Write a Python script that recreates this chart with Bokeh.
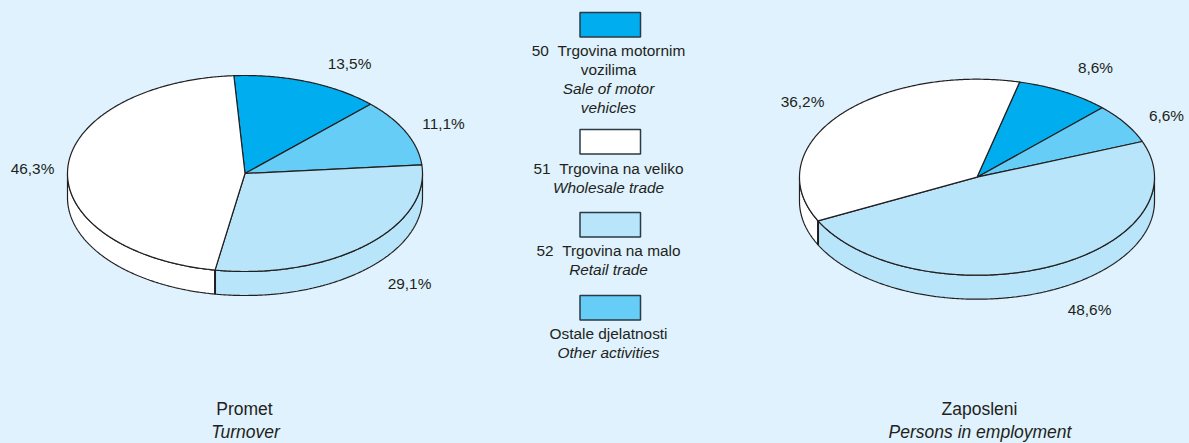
import numpy as np
from bokeh.plotting import figure
from bokeh.models import Range1d, ColumnDataSource
from bokeh.core.properties import value
from bokeh.embed import file_html
from bokeh.resources import INLINE

# data
categories = ["50", "Ostale", "52", "51"]
turnover = [13.5, 11.1, 29.1, 46.3]
employment = [8.6, 6.6, 48.6, 36.2]
turnover_labels = ["13,5%", "11,1%", "29,1%", "46,3%"]
employment_labels = ["8,6%", "6,6%", "48,6%", "36,2%"]

BG = "#DFF2FD"
INK = "#231F20"
SLICE_COLORS = ["#00AEEF", "#66CDF6", "#B8E5FA", "#FFFFFF"]
FONT = "Liberation Sans"
FS = "15.4px"
TITLE_FS = "17.5px"

W, H = 1189, 443
p = figure(width=W, height=H, x_range=Range1d(0, W), y_range=Range1d(H, 0),
           output_backend="svg", toolbar_location=None, min_border=0,
           background_fill_color=BG, border_fill_color=BG, outline_line_color=None)
p.axis.visible = False
p.grid.visible = False


def arc(cx, cy, rx, ry, a0, a1, dy=0.0):
    t = np.radians(np.linspace(a0, a1, max(int(abs(a1 - a0) * 2), 2)))
    return cx + rx * np.sin(t), cy - ry * np.cos(t) + dy


def pie(vals, cx, cy, rx, ry, depth, start):
    edges = start + np.cumsum([0] + list(vals)) * 3.6
    # side wall: the front half only (90..270 degrees clockwise from the top)
    for i, col in enumerate(SLICE_COLORS):
        for off in (0, 360, -360):
            a0 = max(edges[i] + off, 90)
            a1 = min(edges[i + 1] + off, 270)
            if a1 > a0:
                xt, yt = arc(cx, cy, rx, ry, a0, a1)
                xb, yb = arc(cx, cy, rx, ry, a1, a0, depth)
                p.patch(np.r_[xt, xb], np.r_[yt, yb], fill_color=col,
                        line_color=INK, line_width=1.2)
    # boundaries visible on the wall
    for e in edges[1:-1]:
        e = e % 360
        if 90 < e < 270:
            xt, yt = arc(cx, cy, rx, ry, e, e)
            p.line([xt[0], xt[0]], [yt[0], yt[0] + depth], line_color=INK, line_width=2)
    # top
    for i, col in enumerate(SLICE_COLORS):
        x, y = arc(cx, cy, rx, ry, edges[i], edges[i + 1])
        p.patch(np.r_[cx, x], np.r_[cy, y], fill_color=col, line_color=INK,
                line_width=1.2, line_join="round")


def label(xs, ys, texts, style="normal", size=FS):
    src = ColumnDataSource(dict(x=xs, y=ys, t=texts))
    p.text("x", "y", text="t", source=src, text_align="center", text_baseline="middle",
           text_font=value(FONT), text_font_size=value(size), text_color=INK,
           text_font_style=style)


pie(turnover, 244.5, 173, 177.5, 98, 24, -3.6)
pie(employment, 976.5, 176.7, 177.5, 98, 24, 13.9)

label([349, 443, 409, 32], [63, 123, 283, 168], turnover_labels)
label([1095, 1166, 1089, 802], [67, 115, 309, 101], employment_labels)

# legend
legend_top = [12, 129, 212, 295]
legend_colors = ["#00AEEF", "#FFFFFF", "#B8E5FA", "#66CDF6"]
p.quad(left=579.5, right=640, top=legend_top, bottom=[t + 24.5 for t in legend_top],
       fill_color=legend_colors, line_color="#2B3A44", line_width=1.5)

label([608] * 2, [50, 69], ["50 \u00a0Trgovina motornim", "vozilima"])
label([608] * 2, [88, 107], ["Sale of motor", "vehicles"], "italic")
label([608], [168], ["51 \u00a0Trgovina na veliko"])
label([608], [187], ["Wholesale trade"], "italic")
label([608], [250], ["52 \u00a0Trgovina na malo"])
label([608], [269], ["Retail trade"], "italic")
label([608], [333], ["Ostale djelatnosti"])
label([608], [352], ["Other activities"], "italic")

label([244, 979], [408, 408], ["Promet", "Zaposleni"], size=TITLE_FS)
label([245, 979.5], [431, 431], ["Turnover", "Persons in employment"], "italic", size=TITLE_FS)

html = file_html(p, INLINE)
html = html.replace("</head>", "<style>html,body{margin:0;padding:0;overflow:hidden;background:%s}</style></head>" % BG, 1)
open("out.html", "w").write(html)
